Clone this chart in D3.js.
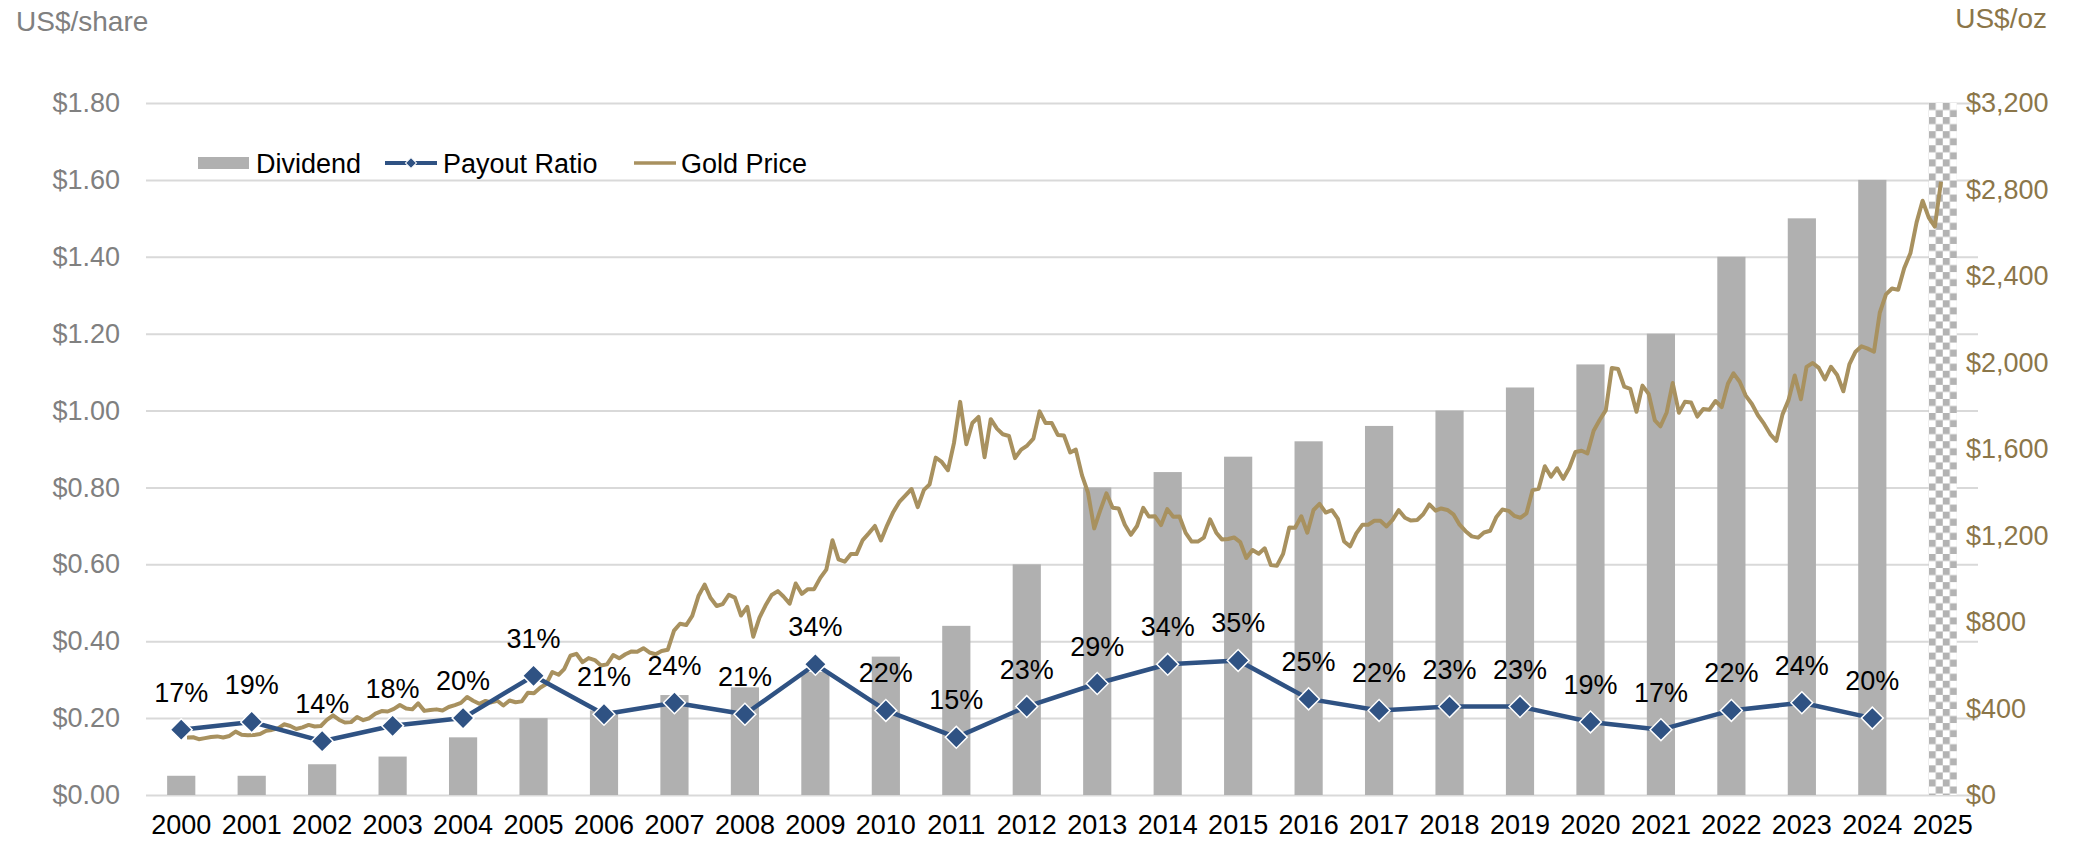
<!DOCTYPE html>
<html>
<head>
<meta charset="utf-8">
<script src="https://cdn.jsdelivr.net/npm/d3@7"></script>
<style>
  html, body { margin: 0; padding: 0; background: #ffffff; }
  svg { display: block; font-family: "Liberation Sans", Arial, Helvetica, sans-serif; }
</style>
</head>
<body>
<svg id="chart" width="2075" height="841"></svg>
<script>
// ---- data ----
const years = ["2000","2001","2002","2003","2004","2005","2006","2007","2008","2009",
               "2010","2011","2012","2013","2014","2015","2016","2017","2018","2019",
               "2020","2021","2022","2023","2024","2025"];

// annual dividend, US$/share (2025 not yet declared)
const dividend = [0.05,0.05,0.08,0.10,0.15,0.20,0.22,0.26,0.28,0.32,
                  0.36,0.44,0.60,0.80,0.84,0.88,0.92,0.96,1.00,1.06,
                  1.12,1.20,1.40,1.50,1.60,null];

// payout ratio, %
const payoutPct = [17,19,14,18,20,31,21,24,21,34,
                   22,15,23,29,34,35,25,22,23,23,
                   19,17,22,24,20,null];

// year shown as a pending (patterned) column
const pendingYear = "2025";

// month-end gold price, US$/oz, starting January 2001
const goldStart = "2001-01";
const goldPrice = [
  266,267,258,263,268,271,266,273,293,279,276,277,          // 2001
  282,297,301,308,327,319,305,313,324,317,319,347,          // 2002
  368,347,335,337,361,346,355,376,388,386,398,416,          // 2003
  400,396,424,389,393,396,391,407,416,426,453,436,          // 2004
  422,435,428,436,414,437,429,433,473,471,496,513,          // 2005
  569,556,582,644,653,614,633,624,599,604,647,632,          // 2006
  651,664,662,679,659,651,666,672,760,792,786,828,          // 2007
  920,973,912,874,883,926,913,830,870,732,820,876,          // 2008
  925,943,918,885,978,930,952,952,1004,1042,1178,1090,      // 2009
  1079,1114,1114,1179,1210,1244,1177,1247,1309,1355,1386,1415, // 2010
  1331,1411,1436,1560,1540,1502,1627,1818,1622,1720,1748,1562, // 2011
  1738,1694,1668,1660,1558,1597,1616,1648,1774,1720,1720,1665, // 2012
  1662,1584,1597,1478,1398,1233,1316,1395,1328,1325,1250,1203, // 2013
  1244,1328,1288,1289,1248,1322,1287,1288,1212,1172,1172,1190, // 2014
  1275,1213,1182,1184,1191,1169,1096,1133,1116,1141,1063,1060, // 2015
  1115,1237,1236,1289,1213,1318,1346,1306,1317,1277,1172,1150, // 2016
  1210,1250,1250,1268,1268,1242,1272,1317,1282,1269,1272,1298, // 2017
  1344,1315,1325,1318,1298,1250,1220,1196,1190,1214,1222,1284, // 2018
  1320,1314,1291,1282,1302,1410,1416,1520,1472,1511,1462,1512, // 2019
  1586,1592,1580,1684,1734,1780,1975,1970,1888,1878,1772,1893, // 2020
  1855,1732,1705,1769,1905,1768,1818,1815,1750,1785,1782,1822, // 2021
  1794,1902,1950,1911,1847,1808,1756,1716,1668,1638,1760,1826, // 2022
  1940,1830,1980,1998,1975,1922,1980,1942,1867,1991,2050,2075, // 2023
  2064,2050,2230,2315,2342,2336,2436,2505,2648,2748,2670,2628, // 2024
  2836                                                          // 2025
];

const leftTicks  = [0,0.2,0.4,0.6,0.8,1.0,1.2,1.4,1.6,1.8];
const rightTicks = [0,400,800,1200,1600,2000,2400,2800,3200];

const leftUnit  = "US$/share";
const rightUnit = "US$/oz";
const legendItems = [
  { key: "bar",  label: "Dividend" },
  { key: "line", label: "Payout Ratio" },
  { key: "gold", label: "Gold Price" }
];

// ---- styles ----
const C = {
  bar: "#b0b0b0",
  payout: "#2f5283",
  gold: "#a8915f",
  goldText: "#8b7649",
  axisText: "#808080",
  grid: "#d9d9d9",
  text: "#000000"
};
const FS = 27;

// ---- layout & scales ----
const plot = { left: 146, right: 1978, top: 103, bottom: 795 };
const svg = d3.select("#chart");

const x = d3.scaleBand()
  .domain(years)
  .range([plot.left, plot.right])
  .paddingInner(0.6)
  .paddingOuter(0.3);
const bw = x.bandwidth();
const cx = d => x(d) + bw / 2;

const yL = d3.scaleLinear().domain([0, 1.8]).range([plot.bottom, plot.top]);
const yR = d3.scaleLinear().domain([0, 3200]).range([plot.bottom, plot.top]);

const parseMonth = d3.timeParse("%Y-%m");
const goldDates = goldPrice.map((_, i) => d3.timeMonth.offset(parseMonth(goldStart), i));
const xG = d3.scaleTime()
  .domain(d3.extent(goldDates))
  .range([plot.left + 41, plot.right - 37]);

// ---- checker pattern for the pending column ----
const sq = bw / 4;
const defs = svg.append("defs");
const pat = defs.append("pattern")
  .attr("id", "checker")
  .attr("patternUnits", "userSpaceOnUse")
  .attr("x", x(pendingYear))
  .attr("y", plot.top)
  .attr("width", sq * 2)
  .attr("height", sq * 2);
pat.append("rect").attr("width", sq * 2).attr("height", sq * 2).attr("fill", "#ffffff");
pat.append("rect").attr("width", sq).attr("height", sq).attr("fill", "#b3b3b3");
pat.append("rect").attr("x", sq).attr("y", sq).attr("width", sq).attr("height", sq).attr("fill", "#b3b3b3");

// ---- gridlines ----
const grid = svg.append("g")
  .attr("transform", `translate(${plot.left},0)`)
  .call(d3.axisLeft(yL).tickValues(leftTicks).tickSize(-(plot.right - plot.left)).tickFormat(""));
grid.select(".domain").remove();
grid.selectAll("line").attr("stroke", C.grid).attr("stroke-width", 2);

// ---- left axis labels ----
const axL = svg.append("g")
  .attr("transform", `translate(${plot.left},0)`)
  .call(d3.axisLeft(yL).tickValues(leftTicks).tickSize(0).tickPadding(26).tickFormat(d3.format("$.2f")));
axL.select(".domain").remove();
axL.selectAll("text")
  .attr("font-family", null)
  .attr("font-size", FS)
  .attr("fill", C.axisText);

// ---- right axis labels ----
const axR = svg.append("g")
  .attr("transform", `translate(${plot.right - 12},0)`)
  .call(d3.axisRight(yR).tickValues(rightTicks).tickSize(0).tickPadding(0).tickFormat(d3.format("$,.0f")));
axR.select(".domain").remove();
axR.selectAll("text")
  .attr("font-family", null)
  .attr("font-size", FS)
  .attr("fill", C.goldText);

// ---- bottom axis labels ----
const axB = svg.append("g")
  .attr("transform", `translate(0,${plot.bottom})`)
  .call(d3.axisBottom(x).tickSize(0).tickPadding(20));
axB.select(".domain").remove();
axB.selectAll("text")
  .attr("font-family", null)
  .attr("font-size", FS)
  .attr("fill", C.text);

// ---- unit titles ----
svg.append("text").attr("x", 16).attr("y", 31)
  .attr("font-size", 28).attr("fill", C.axisText).text(leftUnit);
svg.append("text").attr("x", 2047).attr("y", 28).attr("text-anchor", "end")
  .attr("font-size", 28).attr("fill", C.goldText).text(rightUnit);

// ---- dividend bars ----
const barData = years.map((y, i) => ({ year: y, v: dividend[i] })).filter(d => d.v != null);
svg.append("g").selectAll("rect").data(barData).join("rect")
  .attr("x", d => x(d.year))
  .attr("width", bw)
  .attr("y", d => yL(d.v))
  .attr("height", d => yL(0) - yL(d.v))
  .attr("fill", C.bar);

// pending column spans the full axis height
svg.append("rect")
  .attr("x", x(pendingYear))
  .attr("width", bw)
  .attr("y", yL(yL.domain()[1]))
  .attr("height", yL(0) - yL(yL.domain()[1]))
  .attr("fill", "url(#checker)");

// ---- gold price line ----
const goldLine = d3.line()
  .x((d, i) => xG(goldDates[i]))
  .y(d => yR(d));
svg.append("path")
  .datum(goldPrice)
  .attr("d", goldLine)
  .attr("fill", "none")
  .attr("stroke", C.gold)
  .attr("stroke-width", 4)
  .attr("stroke-linejoin", "round");

// ---- payout ratio line & markers ----
const payData = years.map((y, i) => ({ year: y, p: payoutPct[i] })).filter(d => d.p != null);
const payLine = d3.line().x(d => cx(d.year)).y(d => yL(d.p / 100));
svg.append("path")
  .datum(payData)
  .attr("d", payLine)
  .attr("fill", "none")
  .attr("stroke", C.payout)
  .attr("stroke-width", 4.5)
  .attr("stroke-linejoin", "round");

const diamond = d3.symbol(d3.symbolSquare, 240);
svg.append("g").selectAll("path").data(payData).join("path")
  .attr("d", diamond)
  .attr("transform", d => `translate(${cx(d.year)},${yL(d.p / 100)}) rotate(45)`)
  .attr("fill", C.payout)
  .attr("stroke", "#ffffff")
  .attr("stroke-width", 1.5);

// ---- data labels ----
svg.append("g").selectAll("text").data(payData).join("text")
  .attr("x", d => cx(d.year))
  .attr("y", d => yL(d.p / 100) - 28)
  .attr("text-anchor", "middle")
  .attr("font-size", FS)
  .attr("fill", C.text)
  .text(d => `${d.p}%`);

// ---- legend ----
const lg = svg.append("g");
const ly = 163;
const lbase = ly + 9.5;
const legendPos = { bar: [198, 51, 256], line: [385, 52, 443], gold: [634, 42, 681] };
legendItems.forEach(item => {
  const [sx, sw, tx] = legendPos[item.key];
  if (item.key === "bar") {
    lg.append("rect").attr("x", sx).attr("y", ly - 6).attr("width", sw).attr("height", 12).attr("fill", C.bar);
  } else if (item.key === "line") {
    lg.append("line").attr("x1", sx).attr("x2", sx + sw).attr("y1", ly).attr("y2", ly)
      .attr("stroke", C.payout).attr("stroke-width", 4);
    lg.append("path").attr("d", d3.symbol(d3.symbolSquare, 60))
      .attr("transform", `translate(${sx + sw / 2},${ly}) rotate(45)`)
      .attr("fill", C.payout).attr("stroke", "#ffffff").attr("stroke-width", 1);
  } else {
    lg.append("line").attr("x1", sx).attr("x2", sx + sw).attr("y1", ly).attr("y2", ly)
      .attr("stroke", C.gold).attr("stroke-width", 3.5);
  }
  lg.append("text").attr("x", tx).attr("y", lbase)
    .attr("font-size", FS).attr("fill", C.text).text(item.label);
});
</script>
</body>
</html>
